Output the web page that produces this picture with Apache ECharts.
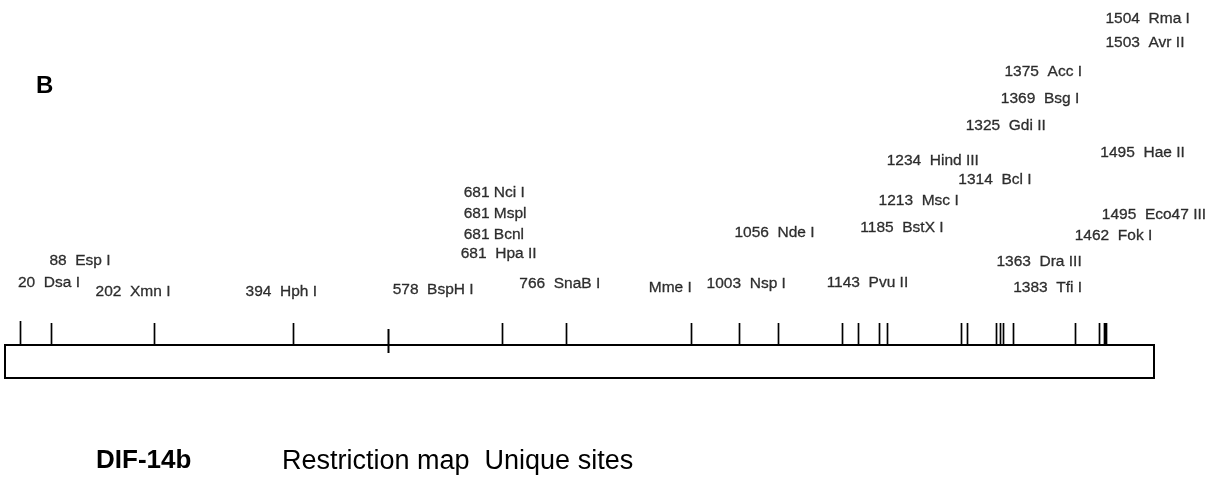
<!DOCTYPE html>
<html>
<head>
<meta charset="utf-8">
<script src="https://cdn.jsdelivr.net/npm/echarts@6/dist/echarts.min.js"></script>
<style>
html,body{margin:0;padding:0;background:#fff;}
#chart{width:1222px;height:477px;}
</style>
</head>
<body>
<div id="chart"></div>
<script>
// ---- data ----
const mapLength = 1570;               // length of the mapped fragment (bp)
// positions of the cut-site ticks on the map (bp)
const sitePos = [20, 63, 203, 393, 523, 679, 766, 937, 1003, 1056, 1144, 1166, 1194, 1205, 1306, 1315, 1354, 1359, 1364, 1378, 1462, 1495, 1501, 1503, 1505];
// site labels: printed position and enzyme name
const labelNum = ['1504', '1503', '1375', '1369', '1325', '1495', '1234', '1314', '681', '1213', '681', '1495', '1185', '681', '1056', '1462', '681', '88', '1363', '20', '766', '1003', '1143', '1383', '', '578', '394', '202'];
const labelEnz = ['Rma I', 'Avr II', 'Acc I', 'Bsg I', 'Gdi II', 'Hae II', 'Hind III', 'Bcl I', 'Nci I', 'Msc I', 'Mspl', 'Eco47 III', 'BstX I', 'Bcnl', 'Nde I', 'Fok I', 'Hpa II', 'Esp I', 'Dra III', 'Dsa I', 'SnaB I', 'Nsp I', 'Pvu II', 'Tfi I', 'Mme I', 'BspH I', 'Hph I', 'Xmn I'];
const labelSep = ['  ', '  ', '  ', '  ', '  ', '  ', '  ', '  ', ' ', '  ', ' ', '  ', '  ', ' ', '  ', '  ', '  ', '  ', '  ', '  ', '  ', '  ', '  ', '  ', '', '  ', '  ', '  '];
const panelLetter = 'B';
const cloneName = 'DIF-14b';
const caption = 'Restriction map  Unique sites';

// ---- layout (label anchor: x along map in bp, height above the map) ----
const labelX = [1503, 1503, 1365, 1360, 1312, 1496, 1204, 1302, 626, 1193, 626, 1498, 1168, 626, 996, 1461, 622, 60, 1354, 17, 702, 958, 1122, 1377, 879, 529, 328, 123];
const labelH = [326, 302, 273, 246, 219, 192, 184, 165, 152, 144, 131, 130, 117, 110, 112, 109, 91, 84, 83, 62, 61, 61, 62, 57, 57, 55, 53, 53];

const FONT = 'Liberation Sans, Arial, sans-serif';
const labelData = labelNum.map((n, i) => [labelX[i], labelH[i], (n ? n + labelSep[i] : '') + labelEnz[i]]);

const chart = echarts.init(document.getElementById('chart'), null, {renderer: 'canvas'});
chart.setOption({
  animation: false,
  backgroundColor: '#ffffff',
  grid: {left: 5, right: 68, top: 0, bottom: 0},
  xAxis: {type: 'value', min: 0, max: mapLength, show: false},
  yAxis: {type: 'value', min: -132, max: 345, show: false},
  graphic: [
    {type: 'text', left: 36, top: 74, style: {text: panelLetter, font: 'bold 24px ' + FONT, fill: '#000'}},
    {type: 'text', left: 96, top: 448, style: {text: cloneName, font: 'bold 26px ' + FONT, fill: '#000'}},
    {type: 'text', left: 282, top: 448, style: {text: caption, font: '27px ' + FONT, fill: '#000'}}
  ],
  series: [
    {
      type: 'custom',
      data: [[0, mapLength]],
      renderItem: function (params, api) {
        const p0 = api.coord([api.value(0), 0]);
        const p1 = api.coord([api.value(1), -33]);
        return {type: 'rect', shape: {x: p0[0], y: p0[1], width: p1[0] - p0[0], height: p1[1] - p0[1]},
          style: {fill: 'none', stroke: '#000', lineWidth: 2}};
      },
      z: 2
    },
    {
      type: 'custom',
      data: sitePos.map(p => [p]),
      renderItem: function (params, api) {
        const x = api.value(0);
        let top = 22, bot = 0;
        if (params.dataIndex === 0) top = 24;
        if (x === 523) { top = 16; bot = -8; }
        const a = api.coord([x, top]);
        const b = api.coord([x, bot]);
        const lw = x === 523 ? 2 : 1.7;
        return {type: 'line', shape: {x1: Math.round(a[0]) + 0.5, y1: a[1], x2: Math.round(a[0]) + 0.5, y2: b[1]},
          style: {stroke: '#000', lineWidth: lw}};
      },
      z: 3
    },
    {
      type: 'scatter',
      data: labelData,
      symbolSize: 1,
      itemStyle: {color: 'rgba(0,0,0,0)'},
      label: {
        show: true, position: 'right', distance: 0,
        formatter: p => p.value[2],
        color: '#000', fontSize: 15.5, fontFamily: FONT,
        textBorderColor: '#000', textBorderWidth: 0.3
      },
      emphasis: {disabled: true},
      silent: true,
      z: 4
    }
  ]
});
</script>
</body>
</html>
